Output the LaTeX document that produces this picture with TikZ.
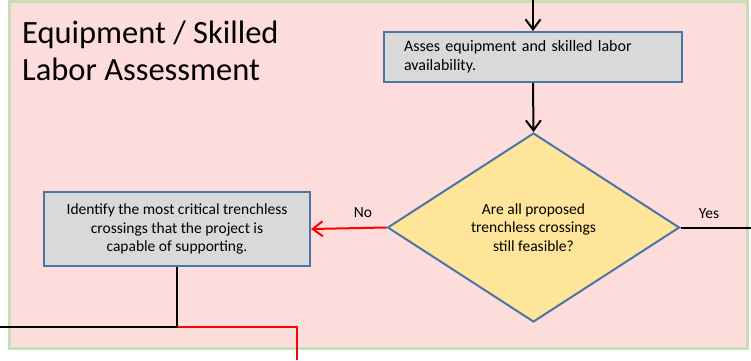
\documentclass[tikz,border=0pt]{standalone}
\usepackage{fontspec}
\setmainfont{Carlito}
\usetikzlibrary{shapes.geometric,arrows.meta}
\definecolor{panelfill}{HTML}{FDDCDC}
\definecolor{panelline}{HTML}{C5E0B4}
\definecolor{boxfill}{HTML}{D9D9D9}
\definecolor{boxline}{HTML}{4A76A6}
\definecolor{decfill}{HTML}{FFE599}
\definecolor{nored}{HTML}{FF0000}
\tikzset{
  panel/.style={draw=panelline, fill=panelfill, line width=3pt},
  procbox/.style={rectangle, draw=boxline, fill=boxfill, line width=2pt, font=\fontsize{15.5}{18.5}\selectfont},
  decbox/.style={diamond, draw=boxline, fill=decfill, line width=2pt, inner sep=0pt, aspect=1.545, font=\fontsize{15.5}{18.5}\selectfont, align=center},
  titletext/.style={font=\fontsize{32.5}{37}\selectfont, inner sep=0pt},
  lbl/.style={font=\fontsize{15.5}{17}\selectfont, inner sep=0pt},
  flow/.style={line width=2pt, draw=black},
  noflow/.style={line width=2pt, draw=nored},
  tip/.style={-{Straight Barb[length=10pt,width=15pt,line width=2pt]}},
}
\begin{document}
\begin{tikzpicture}[x=1pt,y=-1pt]
\useasboundingbox (0,0) rectangle (751,360);
\fill[white] (0,0) rectangle (751,360);
\draw[panel] (9.5,1.5) rectangle (747.5,348);
\node[titletext, anchor=base west] (t1) at (22,43) {Equipment / Skilled};
\node[titletext, anchor=base west] (t2) at (22,80) {Labor Assessment};
\node[procbox, font=\fontsize{16}{19}\selectfont, minimum width=298pt, minimum height=50pt, text width=258pt, inner xsep=20pt, align=left] (assess) at (533,57) {\makebox[215pt][s]{Asses equipment and skilled labor}\\availability.};
\node[decbox, minimum width=292pt, minimum height=189pt] (feas) at (533.5,227.5) {Are all proposed\\trenchless crossings\\still feasible?};
\node[procbox, minimum width=266pt, minimum height=74pt, align=center] (ident) at (177,229) {Identify the most critical trenchless\\crossings that the project is\\capable of supporting.};
\coordinate (in) at (533,0);
\coordinate (yesend) at (751,227.5);
\coordinate (join) at (177,327);
\coordinate (leftend) at (0,327);
\coordinate (rbend) at (297,327);
\coordinate (rdown) at (297,360);
\draw[flow, tip] (in) -- (assess.north);
\draw[flow, tip] (assess.south) -- (feas.north);
\draw[flow] (feas.east) -- (yesend);
\draw[noflow, tip] (feas.west) -- (ident.east);
\node[lbl] (yes) at (709,214) {Yes};
\node[lbl] (no) at (363,213) {No};
\draw[noflow] (join) -- (rbend) -- (rdown);
\draw[flow] (ident.south) -- (join) -- (leftend);
\end{tikzpicture}
\end{document}
